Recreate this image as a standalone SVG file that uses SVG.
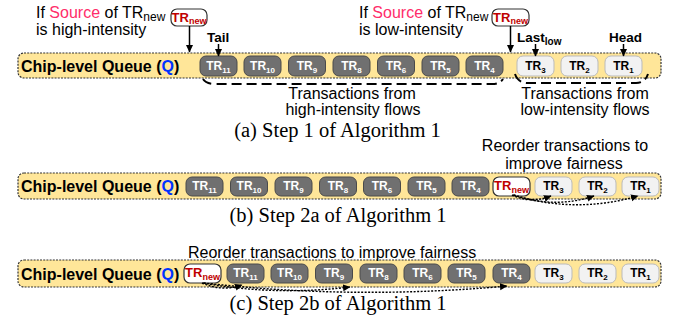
<svg xmlns="http://www.w3.org/2000/svg" width="673" height="324" viewBox="0 0 673 324">
<defs>
<marker id="ah" markerWidth="8" markerHeight="8" refX="7" refY="4" orient="auto" markerUnits="userSpaceOnUse"><path d="M0,0.5 L7.5,4 L0,7.5 Z" fill="#000"/></marker>
<style>
text{font-family:"Liberation Sans",Arial,sans-serif}
.bar{fill:#FFE699;stroke:#333;stroke-width:1.2;stroke-dasharray:2 1.2}
.qt{font-size:16px;font-weight:bold;fill:#000}
.q{fill:#0033FF}
.dk rect{fill:#707070;stroke:#4A4A4A;stroke-width:1}
.dk text{fill:#fff;font-size:12px;font-weight:bold;text-anchor:middle}
.lt rect{fill:#F2F2F2;stroke:#BBBBBB;stroke-width:1}
.lt text{fill:#000;font-size:12px;font-weight:bold;text-anchor:middle}
.nw rect{fill:#fff;stroke:#333;stroke-width:1.2}
.nw text{fill:#C00000;font-size:13px;font-weight:bold;text-anchor:middle}
.sub{font-size:8px}
.nsub{font-size:9px}
.lbl{font-size:16px;fill:#000}
.src{fill:#FF2D6A}
.ptr{font-size:13.5px;font-weight:bold;fill:#000}
.cap{font-family:"Liberation Serif","Times New Roman",serif;font-size:20.5px;fill:#000;text-anchor:middle}
.mid{text-anchor:middle}
.arr{stroke:#000;stroke-width:1.5;fill:none}
.br{stroke:#000;stroke-width:2;fill:none;stroke-dasharray:10 5}
.dot{stroke:#000;stroke-width:1.4;fill:none;stroke-dasharray:2 1.5}
</style>
</defs>

<!-- Panel (a) -->
<g id="queue-a">
<rect class="bar" x="18" y="53" width="643" height="25" rx="6"/>
<text class="qt" x="21" y="72">Chip-level Queue (<tspan class="q">Q</tspan>)</text>
</g>
<g id="a-tr11" class="dk"><rect x="200" y="56" width="37" height="20" rx="6"/><text x="218.5" y="70">TR<tspan class="sub" dy="3">11</tspan></text></g>
<g id="a-tr10" class="dk"><rect x="244" y="56" width="37" height="20" rx="6"/><text x="262.5" y="70">TR<tspan class="sub" dy="3">10</tspan></text></g>
<g id="a-tr9" class="dk"><rect x="288.5" y="56" width="37" height="20" rx="6"/><text x="307" y="70">TR<tspan class="sub" dy="3">9</tspan></text></g>
<g id="a-tr8" class="dk"><rect x="333" y="56" width="37" height="20" rx="6"/><text x="351.5" y="70">TR<tspan class="sub" dy="3">8</tspan></text></g>
<g id="a-tr6" class="dk"><rect x="377.5" y="56" width="37" height="20" rx="6"/><text x="396" y="70">TR<tspan class="sub" dy="3">6</tspan></text></g>
<g id="a-tr5" class="dk"><rect x="422" y="56" width="37" height="20" rx="6"/><text x="440.5" y="70">TR<tspan class="sub" dy="3">5</tspan></text></g>
<g id="a-tr4" class="dk"><rect x="466" y="56" width="37" height="20" rx="6"/><text x="484.5" y="70">TR<tspan class="sub" dy="3">4</tspan></text></g>
<g id="a-tr3" class="lt"><rect x="517" y="56" width="37" height="20" rx="6"/><text x="535.5" y="70">TR<tspan class="sub" dy="3">3</tspan></text></g>
<g id="a-tr2" class="lt"><rect x="561" y="56" width="37" height="20" rx="6"/><text x="579.5" y="70">TR<tspan class="sub" dy="3">2</tspan></text></g>
<g id="a-tr1" class="lt"><rect x="605" y="56" width="37" height="20" rx="6"/><text x="623.5" y="70">TR<tspan class="sub" dy="3">1</tspan></text></g>

<g id="a-new-high" class="nw"><rect x="171" y="9" width="36" height="17" rx="6"/><text x="189" y="22">TR<tspan class="nsub" dy="2">new</tspan></text></g>
<g id="a-new-low" class="nw"><rect x="492" y="9" width="37" height="17" rx="6"/><text x="510.5" y="22">TR<tspan class="nsub" dy="2">new</tspan></text></g>

<g id="a-labels">
<text class="lbl" x="36" y="18">If <tspan class="src">Source</tspan> of TR<tspan font-size="12" dy="3">new</tspan></text>
<text class="lbl" x="36" y="35">is high-intensity</text>
<text class="lbl" x="359" y="18">If <tspan class="src">Source</tspan> of TR<tspan font-size="12" dy="3">new</tspan></text>
<text class="lbl" x="359" y="35">is low-intensity</text>
<text class="ptr" x="207" y="42">Tail</text>
<text class="ptr" x="517" y="42">Last<tspan font-size="10" dy="3">low</tspan></text>
<text class="ptr" x="609" y="42">Head</text>
<text class="lbl mid" x="352" y="99">Transactions from</text>
<text class="lbl mid" x="353" y="115">high-intensity flows</text>
<text class="lbl mid" x="585" y="99">Transactions from</text>
<text class="lbl mid" x="585" y="115">low-intensity flows</text>
<text class="cap" x="337.5" y="137">(a) Step 1 of Algorithm 1</text>
</g>

<!-- Panel (b) -->
<g id="queue-b">
<rect class="bar" x="18" y="173" width="643" height="26" rx="6"/>
<text class="qt" x="21" y="192">Chip-level Queue (<tspan class="q">Q</tspan>)</text>
</g>
<g id="b-tr11" class="dk"><rect x="186" y="177" width="37" height="19" rx="6"/><text x="204.5" y="190">TR<tspan class="sub" dy="3">11</tspan></text></g>
<g id="b-tr10" class="dk"><rect x="230.5" y="177" width="37" height="19" rx="6"/><text x="249" y="190">TR<tspan class="sub" dy="3">10</tspan></text></g>
<g id="b-tr9" class="dk"><rect x="275" y="177" width="37" height="19" rx="6"/><text x="293.5" y="190">TR<tspan class="sub" dy="3">9</tspan></text></g>
<g id="b-tr8" class="dk"><rect x="319.5" y="177" width="37" height="19" rx="6"/><text x="338" y="190">TR<tspan class="sub" dy="3">8</tspan></text></g>
<g id="b-tr6" class="dk"><rect x="363.5" y="177" width="37" height="19" rx="6"/><text x="382" y="190">TR<tspan class="sub" dy="3">6</tspan></text></g>
<g id="b-tr5" class="dk"><rect x="408" y="177" width="37" height="19" rx="6"/><text x="426.5" y="190">TR<tspan class="sub" dy="3">5</tspan></text></g>
<g id="b-tr4" class="dk"><rect x="452" y="177" width="37" height="19" rx="6"/><text x="470.5" y="190">TR<tspan class="sub" dy="3">4</tspan></text></g>
<g id="b-new" class="nw"><rect x="493" y="177" width="37" height="19" rx="6"/><text x="511.5" y="190">TR<tspan class="nsub" dy="3">new</tspan></text></g>
<g id="b-tr3" class="lt"><rect x="535" y="177" width="37" height="19" rx="6"/><text x="553.5" y="190">TR<tspan class="sub" dy="3">3</tspan></text></g>
<g id="b-tr2" class="lt"><rect x="579" y="177" width="37" height="19" rx="6"/><text x="597.5" y="190">TR<tspan class="sub" dy="3">2</tspan></text></g>
<g id="b-tr1" class="lt"><rect x="622" y="177" width="37" height="19" rx="6"/><text x="640.5" y="190">TR<tspan class="sub" dy="3">1</tspan></text></g>
<g id="b-labels">
<text class="lbl mid" x="565" y="151" font-size="15.5">Reorder transactions to</text>
<text class="lbl mid" x="564" y="168.5" font-size="15.5">improve fairness</text>
<text class="cap" x="338" y="222">(b) Step 2a of Algorithm 1</text>
</g>

<!-- Panel (c) -->
<g id="queue-c">
<rect class="bar" x="18" y="260" width="643" height="27" rx="6"/>
<text class="qt" x="21" y="280">Chip-level Queue (<tspan class="q">Q</tspan>)</text>
</g>
<g id="c-new" class="nw"><rect x="184" y="264" width="37" height="19" rx="6"/><text x="202.5" y="277">TR<tspan class="nsub" dy="3">new</tspan></text></g>
<g id="c-tr11" class="dk"><rect x="227" y="264" width="37" height="19" rx="6"/><text x="245.5" y="277">TR<tspan class="sub" dy="3">11</tspan></text></g>
<g id="c-tr10" class="dk"><rect x="271" y="264" width="37" height="19" rx="6"/><text x="289.5" y="277">TR<tspan class="sub" dy="3">10</tspan></text></g>
<g id="c-tr9" class="dk"><rect x="315.5" y="264" width="37" height="19" rx="6"/><text x="334" y="277">TR<tspan class="sub" dy="3">9</tspan></text></g>
<g id="c-tr8" class="dk"><rect x="360" y="264" width="37" height="19" rx="6"/><text x="378.5" y="277">TR<tspan class="sub" dy="3">8</tspan></text></g>
<g id="c-tr6" class="dk"><rect x="404" y="264" width="37" height="19" rx="6"/><text x="422.5" y="277">TR<tspan class="sub" dy="3">6</tspan></text></g>
<g id="c-tr5" class="dk"><rect x="448" y="264" width="37" height="19" rx="6"/><text x="466.5" y="277">TR<tspan class="sub" dy="3">5</tspan></text></g>
<g id="c-tr4" class="dk"><rect x="493" y="264" width="37" height="19" rx="6"/><text x="511.5" y="277">TR<tspan class="sub" dy="3">4</tspan></text></g>
<g id="c-tr3" class="lt"><rect x="535" y="264" width="37" height="19" rx="6"/><text x="553.5" y="277">TR<tspan class="sub" dy="3">3</tspan></text></g>
<g id="c-tr2" class="lt"><rect x="579" y="264" width="37" height="19" rx="6"/><text x="597.5" y="277">TR<tspan class="sub" dy="3">2</tspan></text></g>
<g id="c-tr1" class="lt"><rect x="622" y="264" width="37" height="19" rx="6"/><text x="640.5" y="277">TR<tspan class="sub" dy="3">1</tspan></text></g>
<g id="c-labels">
<text class="lbl" x="188" y="258">Reorder transactions to improve fairness</text>
<text class="cap" x="338" y="310">(c) Step 2b of Algorithm 1</text>
</g>

<!-- Connectors -->
<g id="connectors">
<line class="arr" x1="189.5" y1="26" x2="189.5" y2="52" marker-end="url(#ah)"/>
<line class="arr" x1="510.5" y1="26" x2="510.5" y2="52" marker-end="url(#ah)"/>
<line class="arr" x1="218.5" y1="44" x2="218.5" y2="56" marker-end="url(#ah)"/>
<line class="arr" x1="535.5" y1="44" x2="535.5" y2="56" marker-end="url(#ah)"/>
<line class="arr" x1="623.5" y1="44" x2="623.5" y2="56" marker-end="url(#ah)"/>
<path class="br" d="M203 79 Q206 84 216 84 L492 84 Q500 84 503 79"/>
<path class="br" d="M515 74 Q518 83 528 83 L636 83 Q645 83 648 74"/>
<path class="dot" d="M512 195 Q530 204 551 196" marker-end="url(#ah)"/>
<path class="dot" d="M513 195 Q555 209 594 196" marker-end="url(#ah)"/>
<path class="dot" d="M514 195 Q575 214 638 196" marker-end="url(#ah)"/>
<path class="dot" d="M202 283 Q222 292 242 285" marker-end="url(#ah)"/>
<path class="dot" d="M203 283 Q275 296 350 287" marker-end="url(#ah)"/>
<path class="dot" d="M204 283 Q355 300 507 286" marker-end="url(#ah)"/>
</g>
</svg>
